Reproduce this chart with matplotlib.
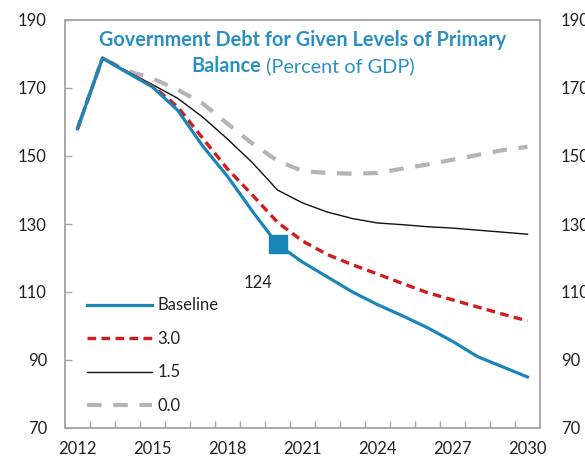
import matplotlib
matplotlib.use("Agg")
import matplotlib.pyplot as plt
from matplotlib.ticker import FixedLocator

plt.rcParams['font.family'] = ['Lato', 'DejaVu Sans']

years = list(range(2012, 2031))
baseline = [158, 178.8, 174.5, 170.3, 163.5, 153, 144, 133.7, 124, 118.8,
            114.4, 110, 106.3, 103, 99.5, 95.5, 91, 88, 85]
pb_3_0 = [158, 178.8, 174.6, 170.6, 164.5, 155.3, 146.2, 138.5, 130.5, 125,
          121, 118, 115.3, 112.5, 109.8, 107.7, 105.6, 103.5, 101.5]
pb_1_5 = [158, 178.8, 174.8, 171, 167, 161.5, 155, 148, 140, 136.2,
          133.5, 131.6, 130.3, 129.8, 129.2, 128.8, 128.2, 127.6, 127]
pb_0_0 = [158, 178.8, 175, 172.8, 169.5, 165.5, 159.5, 153.6, 148.6, 145.6,
          145, 144.8, 145, 146.3, 147.5, 148.9, 150.3, 151.7, 152.7]

marker_year = 2020
marker_value = 124

series_labels = ["Baseline", "3.0", "1.5", "0.0"]
x_tick_labels = [2012, 2015, 2018, 2021, 2024, 2027, 2030]
y_ticks = [70, 90, 110, 130, 150, 170, 190]

TEAL = "#1a86b8"
TITLE = "#2a90c2"
RED = "#d01c1c"
GRAY = "#b4b4b4"
SPINE = "#a8a8a8"
TEXT = "#222222"

fig = plt.figure(figsize=(5.85, 4.70), dpi=100)
ax = fig.add_axes([65 / 585, 42 / 470, 475 / 585, 408 / 470])

ax.plot(years, pb_0_0, color=GRAY, lw=3.0, dashes=(3.5, 2.8), label=series_labels[3], zorder=2)
ax.plot(years, pb_1_5, color="#111111", lw=1.0, label=series_labels[2], zorder=3)
ax.plot(years, pb_3_0, color=RED, lw=2.4, dashes=(2.6, 1.6), label=series_labels[1], zorder=4)
ax.plot(years, baseline, color=TEAL, lw=2.3, label=series_labels[0], zorder=5)
ax.plot([marker_year], [marker_value], marker='s', ms=13.5, color=TEAL, ls='none', zorder=6)
ax.annotate(f"{marker_value}", (marker_year, marker_value), xytext=(-14, -28),
            textcoords='offset points', ha='center', va='center', fontsize=12, color=TEXT)

ax.set_xlim(2011.5, 2030.5)
ax.set_ylim(70, 190)

ax.xaxis.set_major_locator(FixedLocator(x_tick_labels))
ax.xaxis.set_minor_locator(FixedLocator([y + 0.5 for y in years[:-1]]))
ax.tick_params(axis='x', which='major', length=0, pad=9.5, labelsize=12, labelcolor=TEXT)
ax.tick_params(axis='x', which='minor', direction='in', length=5, width=1, color=SPINE)

ax.set_yticks(y_ticks)
ax.tick_params(axis='y', which='major', direction='in', length=5, width=1, color=SPINE,
               labelsize=12, labelcolor=TEXT, pad=13, left=True, right=True,
               labelleft=True, labelright=False)

ax2 = ax.twinx()
ax2.set_ylim(70, 190)
ax2.set_yticks(y_ticks)
ax2.tick_params(axis='y', direction='in', length=0, labelsize=12, labelcolor=TEXT, pad=15)

for a in (ax, ax2):
    for s in a.spines.values():
        s.set_color(SPINE)
        s.set_linewidth(1.2)

leg = ax.legend(handles=[ax.lines[3], ax.lines[2], ax.lines[1], ax.lines[0]],
                loc='upper left', bbox_to_anchor=(0.047, 0.32), frameon=False,
                fontsize=12, handlelength=3.9, handletextpad=0.3, labelspacing=1.05,
                borderpad=0, borderaxespad=0)
for t in leg.get_texts():
    t.set_color(TEXT)

# two-line title, second line mixes bold and regular weight
cx = 303 / 585
t1 = fig.text(cx, 1 - 40 / 470, "Government Debt for Given Levels of Primary",
              ha='center', va='center', fontsize=14.3, fontweight='bold', color=TITLE)
fig.canvas.draw()
r = fig.canvas.get_renderer()
tb = fig.text(0, 1 - 66 / 470, "Balance", ha='left', va='center', fontsize=14.3,
              fontweight='bold', color=TITLE)
tr = fig.text(0, 1 - 66 / 470, " (Percent of GDP)", ha='left', va='center',
              fontsize=14.3, color=TITLE)
wb = tb.get_window_extent(r).width / fig.bbox.width
wr = tr.get_window_extent(r).width / fig.bbox.width
x0 = cx - (wb + wr) / 2
tb.set_x(x0)
tr.set_x(x0 + wb)

fig.savefig("out.png", dpi=100)
